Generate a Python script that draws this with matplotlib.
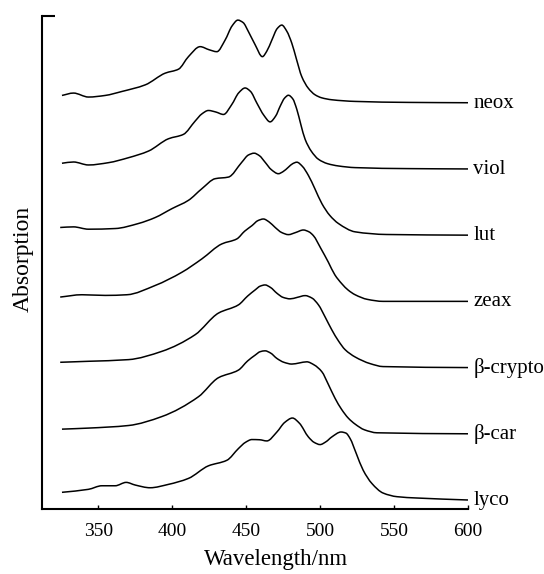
import matplotlib
matplotlib.use("Agg")
import matplotlib.pyplot as plt
from matplotlib.path import Path
from matplotlib.patches import PathPatch

plt.rcParams['font.family'] = ['Liberation Serif', 'DejaVu Serif']

# Wavelength (nm) and relative absorption
neox_wl = [325.5, 333.3, 343.4, 354.7, 366.0, 381.8, 395.3, 404.3, 411.0, 418.9, 425.0, 430.2, 435.8, 440.5,
           444.4, 448.0, 451.6, 456.0, 461.0, 464.0, 467.4, 471.0, 474.1, 477.5, 480.9, 484.0, 487.6, 492.0,
           496.6, 501.0, 507.9, 523.7, 560.0, 600.0]
neox_a = [0.11, 0.146, 0.086, 0.11, 0.17, 0.27, 0.447, 0.507, 0.696, 0.847, 0.80, 0.771, 0.947, 1.16,
          1.248, 1.21, 1.072, 0.88, 0.696, 0.78, 0.947, 1.12, 1.173, 1.08, 0.898, 0.66, 0.395, 0.22,
          0.12, 0.075, 0.045, 0.02, 0.005, 0.0]

viol_wl = [325.5, 333.3, 343.4, 357.0, 370.5, 384.0, 397.5, 407.6, 415.5, 420.0, 424.5, 429.5, 434.7, 440.3,
           445.0, 449.3, 453.0, 457.2, 462.0, 466.2, 470.0, 473.0, 476.0, 478.6, 481.5, 484.3, 487.0, 489.9,
           494.0, 498.9, 505.0, 512.4, 523.7, 560.0, 600.0]
viol_a = [0.086, 0.105, 0.06, 0.095, 0.17, 0.27, 0.456, 0.522, 0.722, 0.83, 0.883, 0.86, 0.823, 0.973,
          1.15, 1.223, 1.17, 0.997, 0.81, 0.711, 0.80, 0.947, 1.07, 1.113, 1.06, 0.898, 0.67, 0.447,
          0.27, 0.146, 0.08, 0.045, 0.02, 0.005, 0.0]

lut_wl = [324.3, 333.3, 343.4, 361.5, 377.2, 388.5, 399.8, 411.0, 420.1, 429.1, 438.0, 447.1, 451.5, 455.4,
          459.0, 462.8, 467.0, 471.8, 475.0, 478.6, 481.5, 484.3, 488.0, 492.1, 496.5, 501.2, 506.5, 512.4,
          523.7, 545.0, 600.0]
lut_a = [0.116, 0.125, 0.09, 0.10, 0.176, 0.266, 0.40, 0.526, 0.702, 0.853, 0.877, 1.102, 1.21, 1.238,
         1.20, 1.102, 0.99, 0.928, 0.96, 1.027, 1.08, 1.102, 1.04, 0.902, 0.70, 0.477, 0.30, 0.176,
         0.05, 0.01, 0.0]

zeax_wl = [324.3, 339.0, 354.7, 369.4, 388.5, 406.6, 420.1, 433.6, 443.7, 449.0, 453.9, 458.0, 461.7, 465.5,
           469.6, 474.0, 478.6, 483.5, 488.7, 492.5, 495.5, 500.5, 505.6, 510.0, 514.7, 519.0, 523.7, 532.0,
           542.6, 600.0]
zeax_a = [0.065, 0.10, 0.09, 0.10, 0.24, 0.44, 0.642, 0.868, 0.943, 1.06, 1.143, 1.22, 1.244, 1.20,
          1.117, 1.04, 1.008, 1.04, 1.078, 1.05, 0.992, 0.80, 0.591, 0.40, 0.266, 0.17, 0.10, 0.03,
          0.0, 0.0]

crypto_wl = [324.3, 343.4, 370.5, 393.0, 415.5, 431.3, 444.8, 451.0, 456.1, 459.5, 462.8, 466.5, 470.8, 475.0,
             479.7, 484.5, 489.9, 494.5, 498.9, 503.5, 507.9, 512.5, 516.9, 523.7, 533.8, 542.6, 600.0]
crypto_a = [0.08, 0.095, 0.12, 0.245, 0.496, 0.823, 0.947, 1.08, 1.173, 1.23, 1.248, 1.21, 1.123, 1.06,
            1.038, 1.06, 1.087, 1.05, 0.947, 0.76, 0.571, 0.40, 0.271, 0.16, 0.06, 0.015, 0.0]

bcar_wl = [325.5, 343.4, 370.5, 393.0, 417.8, 431.3, 444.8, 451.0, 456.1, 459.5, 462.8, 466.5, 470.8, 475.5,
           480.9, 486.0, 491.0, 496.0, 501.2, 505.5, 510.1, 514.5, 519.1, 523.7, 530.0, 538.5, 600.0]
bcar_a = [0.07, 0.086, 0.125, 0.26, 0.56, 0.847, 0.962, 1.10, 1.188, 1.24, 1.253, 1.22, 1.138, 1.08,
          1.053, 1.07, 1.087, 1.04, 0.937, 0.75, 0.537, 0.37, 0.236, 0.146, 0.06, 0.015, 0.0]

lyco_wl = [325.5, 343.4, 352.5, 361.5, 368.9, 375.0, 385.1, 397.5, 411.0, 424.5, 437.0, 444.8, 449.5, 453.9,
           459.0, 464.0, 470.8, 476.0, 481.3, 486.0, 492.1, 496.0, 500.0, 504.0, 507.9, 514.2, 517.5, 520.3,
           524.5, 529.1, 535.0, 542.6, 552.0, 565.5, 600.0]
lyco_a = [0.116, 0.161, 0.215, 0.215, 0.266, 0.226, 0.185, 0.236, 0.326, 0.516, 0.60, 0.777, 0.87, 0.913,
          0.91, 0.892, 1.027, 1.17, 1.238, 1.16, 0.952, 0.87, 0.837, 0.88, 0.952, 1.027, 1.01, 0.928,
          0.70, 0.451, 0.25, 0.105, 0.05, 0.03, 0.0]

labels = ["lyco", "β-car", "β-crypto", "zeax", "lut", "viol", "neox"]
offsets = [0, 1, 2, 3, 4, 5, 6]
series = [(lyco_wl, lyco_a), (bcar_wl, bcar_a), (crypto_wl, crypto_a), (zeax_wl, zeax_a),
          (lut_wl, lut_a), (viol_wl, viol_a), (neox_wl, neox_a)]
xticks = [350, 400, 450, 500, 550, 600]


def smooth_path(xs, ys):
    """Monotone cubic (PCHIP-style) curve through the data points, as Bezier segments."""
    n = len(xs)
    h = [xs[i + 1] - xs[i] for i in range(n - 1)]
    d = [(ys[i + 1] - ys[i]) / h[i] for i in range(n - 1)]
    m = [0.0] * n
    m[0], m[-1] = d[0], d[-1]
    for i in range(1, n - 1):
        if d[i - 1] * d[i] <= 0:
            m[i] = 0.0
        else:
            w1 = 2 * h[i] + h[i - 1]
            w2 = h[i] + 2 * h[i - 1]
            m[i] = (w1 + w2) / (w1 / d[i - 1] + w2 / d[i])
    verts = [(xs[0], ys[0])]
    codes = [Path.MOVETO]
    for i in range(n - 1):
        c1 = (xs[i] + h[i] / 3.0, ys[i] + m[i] * h[i] / 3.0)
        c2 = (xs[i + 1] - h[i] / 3.0, ys[i + 1] - m[i + 1] * h[i] / 3.0)
        verts += [c1, c2, (xs[i + 1], ys[i + 1])]
        codes += [Path.CURVE4] * 3
    return Path(verts, codes)


fig = plt.figure(figsize=(5.44, 5.74), dpi=100)
ax = fig.add_axes([42/544, 1 - 509/574, (468 - 42)/544, (509 - 16)/574])

for (wl, a), off, lab in zip(series, offsets, labels):
    ys = [v + off for v in a]
    ax.add_patch(PathPatch(smooth_path(wl, ys), facecolor='none', edgecolor='black',
                           lw=1.1, joinstyle='round', transform=ax.transData))
    ax.text(603.5, off - 0.075, lab, fontsize=15, ha='left', va='baseline', clip_on=False)

ax.set_xlim(312, 600)
ax.set_ylim(-0.136, 7.31)
ax.set_xticks(xticks)
ax.set_xticklabels([str(t) for t in xticks])
ax.set_yticks([7.31])
ax.set_yticklabels([])
ax.tick_params(axis='x', direction='in', length=3, width=1, labelsize=14, pad=10)
ax.tick_params(axis='y', direction='in', length=9, width=1.5)
for s in ['top', 'right']:
    ax.spines[s].set_visible(False)
for s in ['left', 'bottom']:
    ax.spines[s].set_linewidth(1.5)

ax.set_xlabel("Wavelength/nm", fontsize=16.5)
ax.xaxis.set_label_coords((276.5 - 42) / 426, -(565 - 509) / 493)
ax.xaxis.label.set_va('baseline')
ax.set_ylabel("Absorption", fontsize=17)
ax.yaxis.set_label_coords(-(42 - 23) / 426, (509 - 258.5) / 493)
ax.yaxis.label.set_va('center')

fig.savefig("out.png", dpi=100)
